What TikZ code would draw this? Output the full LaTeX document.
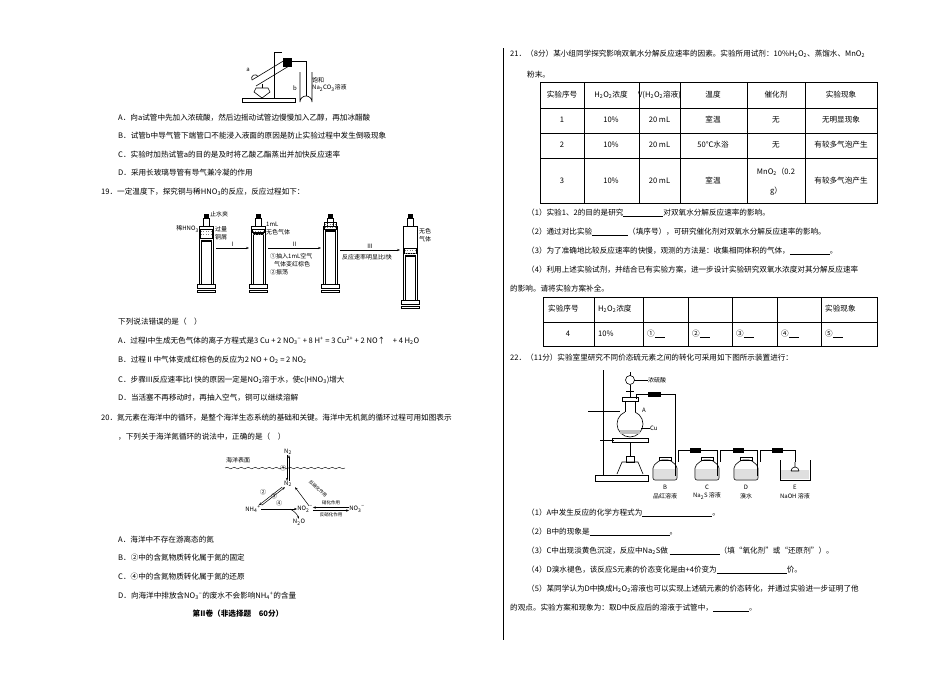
\documentclass[tikz,border=0pt]{standalone}
\usepackage{fontspec}
\setmainfont{Noto Sans CJK SC}
\usetikzlibrary{decorations.pathmorphing,arrows.meta}
\newcommand{\fs}{\fontsize{7.6}{9}\selectfont}
\newcommand{\fss}{\fontsize{6}{7}\selectfont}
\newcommand{\ftiny}{\fontsize{4.5}{5}\selectfont}
\newcommand{\ssub}[1]{\textsubscript{#1}}
\newcommand{\ssup}[1]{\textsuperscript{#1}}
\tikzset{txt/.style={anchor=west,inner sep=0pt,font=\fs},
 ctr/.style={inner sep=0pt,font=\fs},
 sm/.style={inner sep=0pt,font=\fss},
 app/.style={draw=black,line width=0.6pt},
 arr/.style={-{Stealth[length=3pt]},line width=0.5pt}}
\begin{document}
\begin{tikzpicture}[x=1pt,y=-1pt]
\useasboundingbox[fill=white] (0,0) rectangle (950,672);
% ---------- Q18 apparatus
\draw[app] (242,98) rectangle (295,102);
\draw[app] (274,98) -- (274,52) -- (282,52);
\draw[app] (252,80) -- (285,60) (256,86) -- (289,66);
\draw[app] (252,80) arc (150:330:3.5);
\draw[app,fill=black] (283,58) rectangle (291,66);
\draw[app] (289,61) -- (306,61) -- (306,96);
\draw[app] (300,72) -- (300,102) arc (180:360:6) -- (312,72);
\draw[app] (262,98) -- (254,92) -- (256,88) -- (268,88) -- (270,92) -- cycle;
\draw[app] (262,88) -- (262,84);
\node[sm] (la) at (248,70) {a};
\node[sm] (lb) at (295,88) {b};
\node[sm,anchor=west] (lbl1) at (312,80) {饱和};
\node[sm,anchor=west] (lbl2) at (312,88) {Na\ssub{2}CO\ssub{3}溶液};
% ---------- left column text
\node[txt] (a18) at (118,118) {A．向a试管中先加入浓硫酸，然后边摇动试管边慢慢加入乙醇，再加冰醋酸};
\node[txt] (b18) at (118,136) {B．试管b中导气管下端管口不能浸入液面的原因是防止实验过程中发生倒吸现象};
\node[txt] (c18) at (118,155) {C．实验时加热试管a的目的是及时将乙酸乙酯蒸出并加快反应速率};
\node[txt] (d18) at (118,173) {D．采用长玻璃导管有导气兼冷凝的作用};
\node[txt] (q19) at (101,192) {19．一定温度下，探究铜与稀HNO\ssub{3}的反应，反应过程如下：};
% syringes
\foreach \x/\yt/\yb/\pl in {206/218/292/240, 258/218/292/233, 330/218/292/230, 410/218/308/255}{
  \draw[app] (\x-7,\yt+8) rectangle (\x+7,\yb-8);
  \draw[app] (\x-3,\yt) rectangle (\x+3,\yt+8);
  \draw[app,fill=black] (\x-2,\yt-4) rectangle (\x+2,\yt);
  \draw[app] (\x-5,\pl) rectangle (\x+5,\yb-8);
  \draw[app] (\x-9,\yb-8) rectangle (\x+9,\yb-4);
  \draw[app] (\x-9,\yb-2) rectangle (\x+9,\yb);
  \fill[black] (\x-5,\pl) rectangle (\x+5,\pl+2);
}
\foreach \x/\a/\b in {206/229/238, 258/229/232, 330/222/229, 410/248/253}{
  \draw[app] (\x-6,\a) rectangle (\x+6,\b);
  \draw[gray,dotted] (\x-5,\a+2) -- (\x+5,\a+2) (\x-5,\a+5) -- (\x+5,\a+5);
}
\node[sm,anchor=west] (zs) at (210,214) {止水夹};
\node[sm,anchor=east] (xh) at (199,229) {稀HNO\ssub{3}};
\node[sm,anchor=west] (gl1) at (215,229) {过量};
\node[sm,anchor=west] (gl2) at (215,237) {铜屑};
\node[sm,anchor=west] (ml) at (266,224) {1mL};
\node[sm,anchor=west] (ws) at (266,232) {无色气体};
\node[sm,anchor=west] (ws2) at (419,231) {无色};
\node[sm,anchor=west] (ws3) at (419,239) {气体};
\coordinate (s1r) at (216,248); \coordinate (s2l) at (249,248);
\coordinate (s2r) at (268,248); \coordinate (s3l) at (321,248);
\coordinate (s3r) at (340,250); \coordinate (s4l) at (400,250);
\draw[arr] (s1r) -- node[sm,above=1pt] {I} (s2l);
\draw[arr] (s2r) -- node[sm,above=1pt] {II} (s3l);
\draw[arr] (s3r) -- node[sm,above=1pt] {III} (s4l);
\node[sm,anchor=west] (t1) at (270,256) {①抽入1mL空气};
\node[sm,anchor=west] (t2) at (274,264) {气体变红棕色};
\node[sm,anchor=west] (t3) at (270,272) {②振荡};
\node[sm,anchor=west] (t4) at (342,257) {反应速率明显比I快};
\node[txt] (q19s) at (118,322) {下列说法错误的是（　）};
\node[txt] (a19) at (118,341) {A．过程I中生成无色气体的离子方程式是3 Cu + 2 NO\ssub{3}\ssup{−} + 8 H\ssup{+} = 3 Cu\ssup{2+} + 2 NO↑　+ 4 H\ssub{2}O};
\node[txt] (b19) at (118,360) {B．过程Ⅱ中气体变成红棕色的反应为2 NO + O\ssub{2} = 2 NO\ssub{2}};
\node[txt] (c19) at (118,380) {C．步骤III反应速率比I 快的原因一定是NO\ssub{2}溶于水，使\textit{c}(HNO\ssub{3})增大};
\node[txt] (d19) at (118,398) {D．当活塞不再移动时，再抽入空气，铜可以继续溶解};
\node[txt] (q20) at (101,418) {20．氮元素在海洋中的循环，是整个海洋生态系统的基础和关键。海洋中无机氮的循环过程可用如图表示};
\node[txt] (q20b) at (118,437) {，下列关于海洋氮循环的说法中，正确的是（　）};
% N cycle
\draw[decorate,decoration={snake,amplitude=0.8pt,segment length=7pt}] (225,468) -- (345,468);
\node[sm,anchor=west] (hy) at (226,460) {海洋表面};
\node[sm] (n2t) at (288,452) {N\ssub{2}};
\node[sm] (n2b) at (288,484) {N\ssub{2}};
\node[sm] (nh4) at (253,509) {NH\ssub{4}\ssup{+}};
\node[sm] (no2) at (305,509) {NO\ssub{2}\ssup{−}};
\node[sm] (no3) at (357,509) {NO\ssub{3}\ssup{−}};
\node[sm] (n2o) at (299,522) {N\ssub{2}O};
\draw[arr] ([xshift=-1pt]n2t.south) -- ([xshift=-1pt]n2b.north);
\draw[arr] ([xshift=1pt]n2b.north) -- ([xshift=1pt]n2t.south);
\node[sm] (c1) at (283,468) {①};
\draw[arr] ([xshift=-2pt]n2b.south west) -- ([xshift=-2pt]nh4.north east);
\draw[arr] ([xshift=1pt]nh4.north east) -- ([xshift=1pt]n2b.south west);
\node[sm] (c2) at (263,492) {②};
\node[sm] (c3) at (274,496) {③};
\draw[arr] ([xshift=4pt]no2.north) -- ([xshift=3pt]n2b.south east);
\node[inner sep=0pt,font=\ftiny,rotate=-42] (fx) at (318,489) {反硝化作用};
\coordinate (nhm) at (290,509);
\draw[arr] (nh4.east) -- (no2.west);
\draw[arr] (nhm) to[bend left=20] (n2o.north);
\node[sm] (c4) at (279,503) {④};
\draw[arr] ([yshift=-1.5pt]no2.east) -- ([yshift=-1.5pt]no3.west);
\draw[arr] ([yshift=1.5pt]no3.west) -- ([yshift=1.5pt]no2.east);
\node[inner sep=0pt,font=\ftiny] (xh1) at (331,503) {硝化作用};
\node[inner sep=0pt,font=\ftiny] (xh2) at (331,515) {反硝化作用};
\node[txt] (a20) at (118,540) {A．海洋中不存在游离态的氮};
\node[txt] (b20) at (118,558) {B．②中的含氮物质转化属于氮的固定};
\node[txt] (c20) at (118,577) {C．④中的含氮物质转化属于氮的还原};
\node[txt] (d20) at (118,596) {D．向海洋中排放含NO\ssub{3}\ssup{−}的废水不会影响NH\ssub{4}\ssup{+}的含量};
\node[ctr,font=\fs\bfseries] (juan) at (238,614) {第II卷（非选择题　60分）};
% ---------- divider
\draw[line width=0.8pt] (503,48) -- (503,640);
% ---------- Q21
\node[txt] (q21) at (510,54) {21．（8分）某小组同学探究影响双氧水分解反应速率的因素。实验所用试剂：10\%H\ssub{2}O\ssub{2}、蒸馏水、MnO\ssub{2}};
\node[txt] (q21b) at (527,75) {粉末。};
\draw[line width=0.6pt] (540,82) rectangle (877,203);
\foreach \y in {108,133,158} \draw[line width=0.5pt] (540,\y) -- (877,\y);
\foreach \x in {584,639,680,747,805} \draw[line width=0.5pt] (\x,82) -- (\x,203);
\node[ctr] (h1) at (562,95) {实验序号};
\node[ctr] (h2) at (611,95) {H\ssub{2}O\ssub{2}浓度};
\node[ctr] (h3) at (659.5,95) {\textit{V}(H\ssub{2}O\ssub{2}溶液)};
\node[ctr] (h4) at (713,95) {温度};
\node[ctr] (h5) at (776,95) {催化剂};
\node[ctr] (h6) at (841,95) {实验现象};
\foreach \r/\y/\tmp/\cat/\ph in {1/120/室温/无/无明显现象, 2/145/50℃水浴/无/有较多气泡产生}{
 \node[ctr] at (562,\y) {\r}; \node[ctr] at (611,\y) {10\%}; \node[ctr] at (659.5,\y) {20 mL};
 \node[ctr] at (713,\y) {\tmp}; \node[ctr] at (776,\y) {\cat}; \node[ctr] at (841,\y) {\ph};}
\node[ctr] (r3a) at (562,181) {3}; \node[ctr] (r3b) at (611,181) {10\%}; \node[ctr] (r3c) at (659.5,181) {20 mL};
\node[ctr] (r3d) at (713,181) {室温}; \node[ctr] (r3e) at (776,172) {MnO\ssub{2}（0.2};
\node[ctr] (r3f) at (776,191) {g）}; \node[ctr] (r3g) at (841,181) {有较多气泡产生};
\node[txt] (p1) at (527,213) {（1）实验1、2的目的是研究\underline{\hspace{40pt}}对双氧水分解反应速率的影响。};
\node[txt] (p2) at (527,232) {（2）通过对比实验\underline{\hspace{36pt}}（填序号），可研究催化剂对双氧水分解反应速率的影响。};
\node[txt] (p3) at (527,251) {（3）为了准确地比较反应速率的快慢，观测的方法是：收集相同体积的气体，\underline{\hspace{40pt}}。};
\node[txt] (p4) at (527,270) {（4）利用上述实验试剂，并结合已有实验方案，进一步设计实验研究双氧水浓度对其分解反应速率};
\node[txt] (p4b) at (510,289) {的影响。请将实验方案补全。};
\draw[line width=0.6pt] (543,297) rectangle (877,346);
\draw[line width=0.5pt] (543,322) -- (877,322);
\foreach \x in {594,643,688,732,777,821} \draw[line width=0.5pt] (\x,297) -- (\x,346);
\node[txt] (t21) at (548,309) {实验序号};
\node[txt] (t22) at (598,309) {H\ssub{2}O\ssub{2}浓度};
\node[txt] (t27) at (825,309) {实验现象};
\node[ctr] (t31) at (568,334) {4};
\node[txt] (t32) at (598,334) {10\%};
\node[txt] (t33) at (647,334) {①\underline{\hspace{10pt}}};
\node[txt] (t34) at (692,334) {②\underline{\hspace{10pt}}};
\node[txt] (t35) at (736,334) {③\underline{\hspace{10pt}}};
\node[txt] (t36) at (781,334) {④\underline{\hspace{10pt}}};
\node[txt] (t37) at (825,334) {⑤\underline{\hspace{10pt}}};
% ---------- Q22
\node[txt] (q22) at (510,358) {22．（11分）实验室里研究不同价态硫元素之间的转化可采用如下图所示装置进行：};
% stand
\draw[app] (595,475) rectangle (648,481);
\draw[app] (603,475) -- (603,370);
\draw[app] (588,411) -- (620,411);
\draw[app] (600,440) -- (614,440);
\draw[app] (612,438) rectangle (648,442);
% flask A
\draw[app] (630,424) circle (13);
\fill[white] (625.3,405) rectangle (634.7,413);
\draw[app] (625,401) -- (625,412);
\draw[app] (635,401) -- (635,412);
\draw[app] (622,397) rectangle (638,401);
\fill[gray!50] (620,430) rectangle (640,434);
\node[sm,anchor=west] (la2) at (642,410) {A};
\node[sm,anchor=west] (cu) at (650,428) {Cu};
\draw[line width=0.4pt] (641,428) -- (650,428);
% funnel
\draw[app] (630,380) circle (4.5);
\draw[app] (630,375.5) -- (630,372);
\draw[app] (630,384.5) -- (630,398);
\draw[app] (626,391) -- (634,391);
\node[sm,anchor=west] (nl) at (648,380) {浓硫酸};
\draw[line width=0.4pt] (634,380) -- (648,380);
% burner
\draw[app] (630,442) -- (630,456);
\draw[app] (626,456) rectangle (634,462);
\draw[app] (617,474) -- (622,462) -- (638,462) -- (643,474);
% tubes
\draw[app] (636,399) -- (636,394) -- (675,394) -- (675,458);
\draw[app,fill=black] (648,392) rectangle (660,396);
\draw[app] (678,458) -- (678,450) -- (717,450) -- (717,458);
\draw[app] (720,458) -- (720,450) -- (757,450) -- (757,458);
\draw[app] (760,458) -- (760,450) -- (795,450) -- (795,462);
\foreach \x in {690,733,772}{\draw[app,fill=black] (\x,448) rectangle (\x+10,452);}
% bottles
\foreach \x/\n/\l in {665/B/品红溶液, 707/C/Na\ssub{2}S 溶液, 746/D/溴水}{
 \draw[app,rounded corners=2pt] (\x-12,480) -- (\x-12,466) -- (\x-5,460) -- (\x+5,460) -- (\x+12,466) -- (\x+12,480) -- cycle;
 \draw[app] (\x-6,457) rectangle (\x+6,460);
 \fill[gray!25] (\x-11,469) rectangle (\x+11,479);
 \node[sm] at (\x,487) {\n};
 \node[sm] at (\x,496) {\l};
}
\draw[app] (675,458) -- (675,476) (678,458) -- (678,462);
\draw[app] (717,458) -- (717,476) (720,458) -- (720,462);
\draw[app] (757,458) -- (757,476) (760,458) -- (760,462);
% beaker E
\draw[app] (780,460) -- (780,480) -- (810,480) -- (810,460);
\fill[gray!25] (781,470) rectangle (809,479);
\draw[app] (795,462) -- (795,467) (791,471) arc (180:360:4) (791,471) -- (799,471);
\node[sm] (le) at (795,487) {E};
\node[sm] (le2) at (795,496) {NaOH 溶液};
\node[txt] (p221) at (527,513) {（1）A中发生反应的化学方程式为\underline{\hspace{70pt}}。};
\node[txt] (p222) at (527,532) {（2）B中的现象是\underline{\hspace{80pt}}。};
\node[txt] (p223) at (527,551) {（3）C中出现淡黄色沉淀，反应中Na\ssub{2}S做 \underline{\hspace{50pt}}（填“氧化剂”或“还原剂”）。};
\node[txt] (p224) at (527,570) {（4）D溴水褪色，该反应S元素的价态变化是由+4价变为\underline{\hspace{70pt}}价。};
\node[txt] (p225) at (527,589) {（5）某同学认为D中换成H\ssub{2}O\ssub{2}溶液也可以实现上述硫元素的价态转化，并通过实验进一步证明了他};
\node[txt] (p226) at (510,608) {的观点。实验方案和现象为：取D中反应后的溶液于试管中，\underline{\hspace{36pt}}。};
\end{tikzpicture}
\end{document}
